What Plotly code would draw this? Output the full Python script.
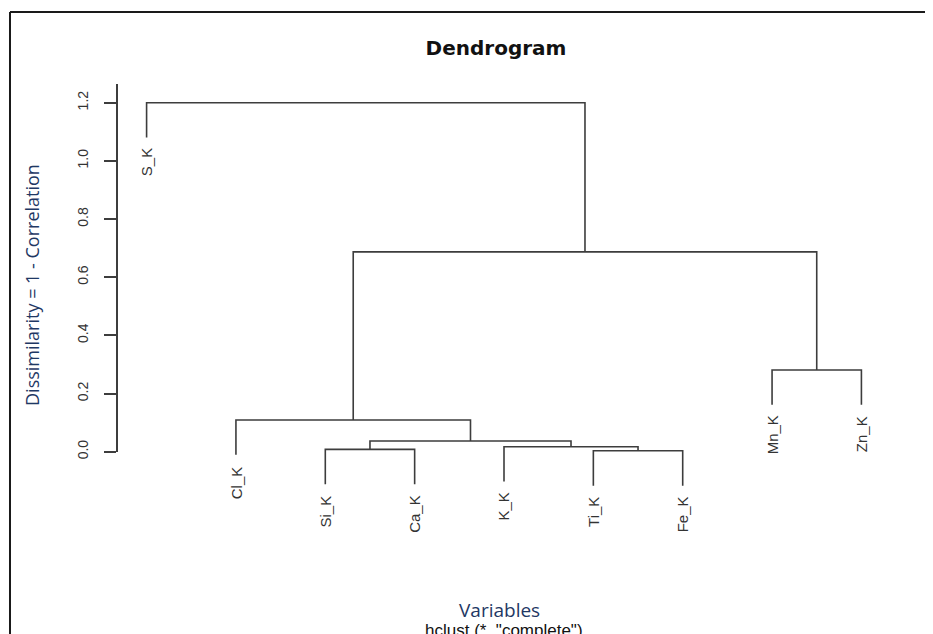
import plotly.graph_objects as go

# ---------------- data ----------------
leaf_labels = ["S_K", "Cl_K", "Si_K", "Ca_K", "K_K", "Ti_K", "Fe_K", "Mn_K", "Zn_K"]
# merges (R hclust style): strings = leaves, ints = earlier merge number (1-based)
merge_left = ["Ti_K", "Si_K", "K_K", 2, "Cl_K", "Mn_K", 5, "S_K"]
merge_right = ["Fe_K", "Ca_K", 1, 3, 4, "Zn_K", 6, 7]
merge_height = [0.003, 0.008, 0.017, 0.037, 0.109, 0.281, 0.687, 1.200]
y_ticks = [0.0, 0.2, 0.4, 0.6, 0.8, 1.0, 1.2]

title_text = "Dendrogram"
y_title = "Dissimilarity = 1 - Correlation"
x_title = "Variables"
sub_title = 'hclust (*, "complete")'

# ---------------- dendrogram geometry ----------------
hang = 0.1 * (max(merge_height) - min(merge_height))
leaf_x = {lab: i + 1 for i, lab in enumerate(leaf_labels)}
leaf_bottom = {}
node_x = {}

def child_info(c, parent_h):
    if isinstance(c, str):
        leaf_bottom[c] = parent_h - hang
        return leaf_x[c], parent_h - hang
    return node_x[c], merge_height[c - 1]

xs, ys = [], []
for i, (l, r, h) in enumerate(zip(merge_left, merge_right, merge_height)):
    lx, ly = child_info(l, h)
    rx, ry = child_info(r, h)
    xs += [lx, lx, rx, rx, None]
    ys += [ly, h, h, ry, None]
    node_x[i + 1] = (lx + rx) / 2

line_col = "#3d3d3d"
text_col = "#333333"
blue = "#1f3864"

fig = go.Figure()
fig.add_trace(go.Scatter(x=xs, y=ys, mode="lines",
                         line=dict(color=line_col, width=1.6),
                         hoverinfo="skip", showlegend=False))
# invisible trace for the display y-axis
fig.add_trace(go.Scatter(x=[1], y=[0], yaxis="y2", mode="markers",
                         marker=dict(opacity=0), hoverinfo="skip", showlegend=False))

for lab in leaf_labels:
    fig.add_annotation(x=leaf_x[lab], y=leaf_bottom[lab], xref="x", yref="y",
                       text=lab, showarrow=False, textangle=-90,
                       xanchor="center", yanchor="top", yshift=-9,
                       font=dict(family="Liberation Sans, Arial", size=15, color=text_col))

# axis titles / subtitle
fig.add_annotation(x=-0.1115, y=0.5833, xref="paper", yref="paper", text=y_title,
                   showarrow=False, textangle=-90, xanchor="center", yanchor="middle",
                   font=dict(family="Open Sans", size=18, color=blue))
fig.add_annotation(x=0.494, y=-0.0185, xref="paper", yref="paper", text=x_title,
                   showarrow=False, xanchor="center", yanchor="middle",
                   font=dict(family="Open Sans", size=19, color=blue))
fig.add_annotation(x=0.4994, y=-0.036, xref="paper", yref="paper", text=sub_title,
                   showarrow=False, xanchor="center", yanchor="top",
                   font=dict(family="Liberation Sans, Arial", size=17, color="#111111"))

# frame lines of the picture
fig.add_shape(type="line", xref="paper", yref="paper", x0=-0.1399, x1=1.07, y0=1.0889, y1=1.0889,
              line=dict(color="#1a1a1a", width=2))
fig.add_shape(type="line", xref="paper", yref="paper", x0=-0.1399, x1=-0.1399, y0=1.0889, y1=-0.08,
              line=dict(color="#1a1a1a", width=2))

fig.update_layout(
    width=925, height=626,
    margin=dict(l=110, r=43, t=52, b=34),
    paper_bgcolor="white", plot_bgcolor="rgba(0,0,0,0)",
    title=dict(text="<b>" + title_text + "</b>", x=0.5276, xref="container", xanchor="center",
               y=0.936, yref="container", yanchor="middle",
               font=dict(family="DejaVu Sans", size=20, color="#111111")),
    xaxis=dict(range=[0.68, 9.32], visible=False, fixedrange=True),
    yaxis=dict(range=[-0.510, 1.347], domain=[0, 1], visible=False, fixedrange=True),
    yaxis2=dict(range=[0, 1.2645], domain=[0.2746, 0.9556], anchor="x",
                showline=True, linecolor=line_col, linewidth=1.6,
                ticks="outside", ticklen=12, tickwidth=1.5, tickcolor=line_col,
                tickvals=y_ticks, tickformat=".1f", tickangle=-90,
                ticklabelstandoff=11,
                tickfont=dict(family="Liberation Sans, Arial", size=14, color=text_col),
                showgrid=False, zeroline=False, fixedrange=True),
)

fig.write_html("out.html")
